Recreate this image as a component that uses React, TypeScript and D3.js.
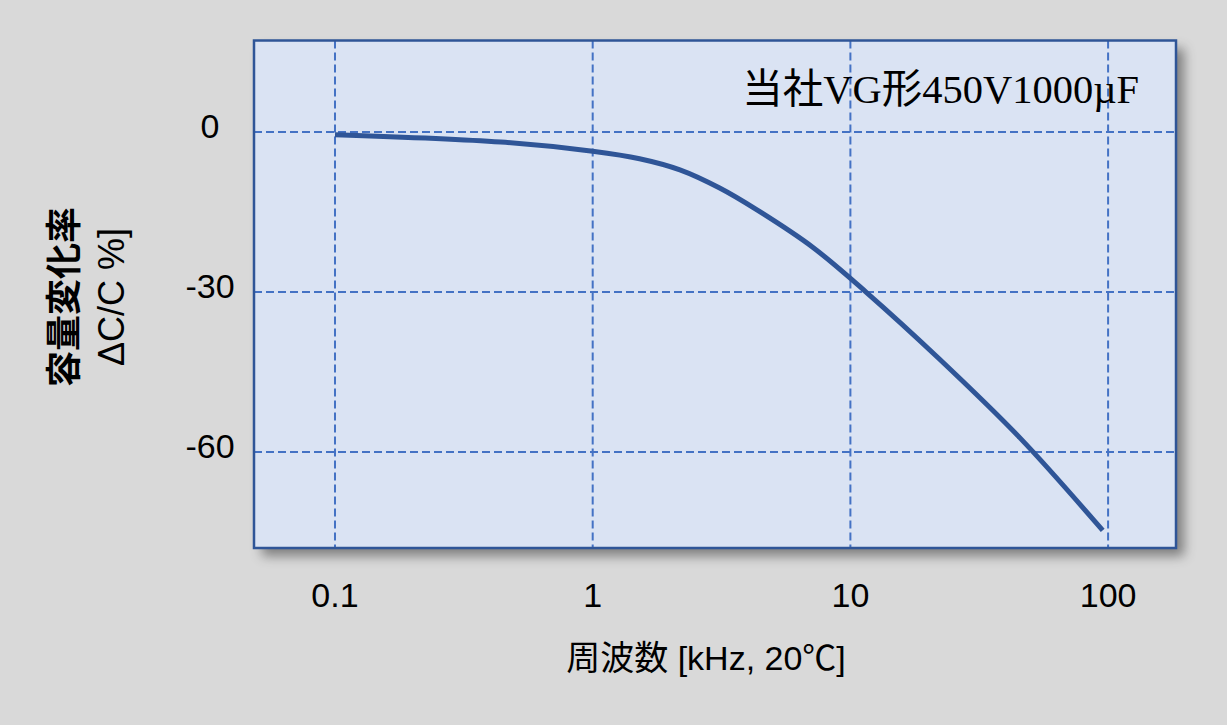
import { useEffect, useRef } from 'react';
import * as d3 from 'd3';

const W = 1227;
const H = 725;

// 周波数 (kHz) と容量変化率 (%)
const freqKHz = [0.1, 0.44, 1, 1.52, 2.18, 3.11, 4.34, 7.14, 11.5, 22.2, 45.4, 95.3];
const deltaC = [-0.5, -1.88, -3.6, -5.0, -7.09, -10.5, -14.6, -21.6, -30.0, -42.6, -57.3, -74.7];

const xTicks = [0.1, 1, 10, 100];
const xTickLabels = ['0.1', '1', '10', '100'];
const yTicks = [0, -30, -60];
const yTickLabels = ['0', '-30', '-60'];

const xTitle = '周波数 [kHz, 20℃]';
const yTitle = ['容量変化率', 'ΔC/C %]'];
const note = '当社VG形450V1000µF';

const SANS = '"Liberation Sans", Arial, "Noto Sans CJK JP", sans-serif';
const SERIF = '"Liberation Serif", "Times New Roman", "Noto Sans CJK JP", serif';

export default function App() {
  const ref = useRef<SVGSVGElement | null>(null);
  useEffect(() => {
    const svg = d3.select(ref.current!);
    svg.selectAll('*').remove();
    const box = { left: 254, top: 40.5, right: 1176, bottom: 548 };
    const x = d3.scaleLog().domain([10 ** -1.3143, 10 ** 2.2635]).range([box.left, box.right]);
    const y = d3.scaleLinear().domain([17.16, -77.99]).range([box.top, box.bottom]);

    svg.append('rect').attr('width', W).attr('height', H).attr('fill', '#d9d9d9');

    const defs = svg.append('defs');
    const f = defs.append('filter').attr('id', 'shadow').attr('x', '-5%').attr('y', '-5%').attr('width', '115%').attr('height', '120%');
    f.append('feDropShadow').attr('dx', 8).attr('dy', 8).attr('stdDeviation', 6).attr('flood-color', '#000').attr('flood-opacity', 0.42);

    svg.append('rect').attr('x', box.left).attr('y', box.top).attr('width', box.right - box.left).attr('height', box.bottom - box.top)
      .attr('fill', '#dae3f3').attr('filter', 'url(#shadow)');

    const grid = svg.append('g').attr('stroke', '#4472c4').attr('stroke-width', 2).attr('stroke-dasharray', '8,4');
    grid.selectAll('line.v').data(xTicks).enter().append('line').attr('class', 'v')
      .attr('x1', (d) => x(d)).attr('x2', (d) => x(d)).attr('y1', box.top).attr('y2', box.bottom);
    grid.selectAll('line.h').data(yTicks).enter().append('line').attr('class', 'h')
      .attr('x1', box.left).attr('x2', box.right).attr('y1', (d) => y(d)).attr('y2', (d) => y(d));

    svg.append('rect').attr('x', box.left).attr('y', box.top).attr('width', box.right - box.left).attr('height', box.bottom - box.top)
      .attr('fill', 'none').attr('stroke', '#2f5597').attr('stroke-width', 2.5);

    const line = d3.line<number>().x((_, i) => x(freqKHz[i])).y((d) => y(d)).curve(d3.curveCatmullRom.alpha(0.5));
    svg.append('path').attr('d', line(deltaC)).attr('fill', 'none').attr('stroke', '#2f5597').attr('stroke-width', 5)
      .attr('stroke-linecap', 'butt');

    svg.append('g').selectAll('text').data(xTicks).enter().append('text')
      .attr('x', (d) => x(d)).attr('y', 607).attr('text-anchor', 'middle')
      .attr('font-family', SANS).attr('font-size', 34).attr('fill', '#000')
      .text((_, i) => xTickLabels[i]);

    svg.append('g').selectAll('text').data(yTicks).enter().append('text')
      .attr('x', 210).attr('y', (d) => y(d) + 6).attr('text-anchor', 'middle')
      .attr('font-family', SANS).attr('font-size', 34).attr('fill', '#000')
      .text((_, i) => yTickLabels[i]);

    svg.append('text').attr('x', 706).attr('y', 670).attr('text-anchor', 'middle')
      .attr('font-family', SANS).attr('font-size', 34).attr('fill', '#000').text(xTitle);

    yTitle.forEach((t, i) => {
      svg.append('text').attr('transform', `translate(${77 + i * 47},297) rotate(-90)`).attr('text-anchor', 'middle')
        .attr('font-family', SANS).attr('font-size', 36).attr('font-weight', i === 0 ? 'bold' : 'normal').attr('fill', '#000').text(t);
    });

    svg.append('text').attr('x', 1139).attr('y', 103).attr('text-anchor', 'end')
      .attr('font-family', SERIF).attr('font-size', 40.5).attr('fill', '#000').text(note);
  }, []);
  return <svg ref={ref} width={W} height={H} style={{ position: 'absolute', left: 0, top: 0, display: 'block' }} />;
}
